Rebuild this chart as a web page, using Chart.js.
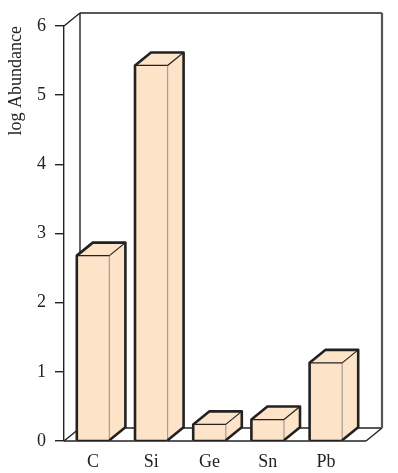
<!DOCTYPE html>
<html>
<head>
<meta charset="utf-8">
<script src="https://cdn.jsdelivr.net/npm/chart.js@4"></script>
<style>
  html, body { margin: 0; padding: 0; background: #fff; }
  #wrap { width: 398px; height: 473px; position: relative; }
</style>
</head>
<body>
<div id="wrap"><canvas id="Grafica"></canvas></div>
<script>
const categories = ['C', 'Si', 'Ge', 'Sn', 'Pb'];
const abundance = [2.68, 5.43, 0.24, 0.31, 1.13];
const yTicks = [0, 1, 2, 3, 4, 5, 6];

const SERIF = "'Liberation Serif', 'Times New Roman', serif";
const FILL = '#fde3c8';
const DX = 16;
const DY = 13;
const FLOOR_EXTRA = 11;

function line (ctx, x1, y1, x2, y2) {
  ctx.beginPath();
  ctx.moveTo(x1, y1);
  ctx.lineTo(x2, y2);
  ctx.stroke();
}

// back wall + floor, drawn behind the bars
const box3d = {
  id: 'box3d',
  beforeDatasetsDraw (chart) {
    const ctx = chart.ctx;
    const { left, right, top, bottom } = chart.chartArea;
    const r = right + FLOOR_EXTRA;
    ctx.save();
    ctx.strokeStyle = '#222';
    ctx.lineWidth = 1.4;
    line(ctx, left, top, left + DX, top - DY);
    line(ctx, left + DX, top - DY, r + DX, top - DY);
    line(ctx, left + DX, top - DY, left + DX, bottom - DY);
    line(ctx, left + DX, bottom - DY, r + DX, bottom - DY);
    line(ctx, left, bottom, left + DX, bottom - DY);
    line(ctx, r, bottom, r + DX, bottom - DY);
    ctx.strokeStyle = '#555';
    ctx.lineWidth = 2.2;
    line(ctx, r + DX, top - DY, r + DX, bottom - DY);
    ctx.restore();
  },
  afterDatasetsDraw (chart) {
    const ctx = chart.ctx;
    const { left, right, bottom } = chart.chartArea;
    ctx.save();
    ctx.strokeStyle = '#222';
    ctx.lineWidth = 1.4;
    line(ctx, left, bottom, right + FLOOR_EXTRA, bottom);

    chart.getDatasetMeta(0).data.forEach(function (bar) {
      const p = bar.getProps(['x', 'y', 'base', 'width'], true);
      const x0 = p.x - p.width / 2;
      const x1 = p.x + p.width / 2;
      const t = p.y;
      const b = p.base;

      ctx.fillStyle = FILL;
      // side
      ctx.beginPath();
      ctx.moveTo(x1, t);
      ctx.lineTo(x1 + DX, t - DY);
      ctx.lineTo(x1 + DX, b - DY);
      ctx.lineTo(x1, b);
      ctx.closePath();
      ctx.fill();
      // top
      ctx.beginPath();
      ctx.moveTo(x0, t);
      ctx.lineTo(x0 + DX, t - DY);
      ctx.lineTo(x1 + DX, t - DY);
      ctx.lineTo(x1, t);
      ctx.closePath();
      ctx.fill();

      // inner edges
      ctx.lineWidth = 1.2;
      ctx.strokeStyle = '#a89c8e';
      line(ctx, x1, t, x1, b);
      ctx.strokeStyle = '#222';
      line(ctx, x0, t, x1, t);
      line(ctx, x1, t, x1 + DX, t - DY);
      line(ctx, x0, b, x1, b);

      // silhouette
      ctx.lineWidth = 2.6;
      ctx.lineJoin = 'round';
      ctx.strokeStyle = '#222';
      ctx.beginPath();
      ctx.moveTo(x0, b);
      ctx.lineTo(x0, t);
      ctx.lineTo(x0 + DX, t - DY);
      ctx.lineTo(x1 + DX, t - DY);
      ctx.lineTo(x1 + DX, b - DY);
      ctx.lineTo(x1, b);
      ctx.stroke();
    });
    ctx.restore();
  }
};

const data = {
  labels: categories,
  datasets: [
    {
      label: 'log Abundance',
      data: abundance,
      backgroundColor: FILL,
      borderWidth: 0,
      barPercentage: 0.56,
      categoryPercentage: 1
    }
  ]
};

const config = {
  type: 'bar',
  data: data,
  options: {
    responsive: true,
    maintainAspectRatio: false,
    animation: false,
    layout: {
      padding: { top: 26, right: 43, left: 0, bottom: 0 }
    },
    plugins: {
      legend: { display: false },
      tooltip: { enabled: false }
    },
    scales: {
      x: {
        grid: { display: false, drawTicks: false },
        border: { display: false },
        ticks: {
          padding: 10,
          color: '#222',
          font: { family: SERIF, size: 18 }
        },
        afterFit (scale) { scale.height = 32; }
      },
      y: {
        min: 0,
        max: 6,
        afterBuildTicks (scale) {
          scale.ticks = yTicks.map(v => ({ value: v }));
        },
        grid: {
          drawOnChartArea: false,
          drawTicks: true,
          tickLength: 9,
          color: '#222',
          lineWidth: 1.4
        },
        border: { display: true, color: '#222', width: 1.4 },
        ticks: {
          padding: 9,
          color: '#222',
          font: { family: SERIF, size: 18 }
        },
        title: {
          display: true,
          text: 'log Abundance',
          align: 'end',
          color: '#222',
          padding: { top: 5, bottom: 0 },
          font: { family: SERIF, size: 18 }
        },
        afterFit (scale) { scale.width = 64; }
      }
    }
  },
  plugins: [box3d]
};

const chart = new Chart(document.getElementById('Grafica'), config);
</script>
</body>
</html>
